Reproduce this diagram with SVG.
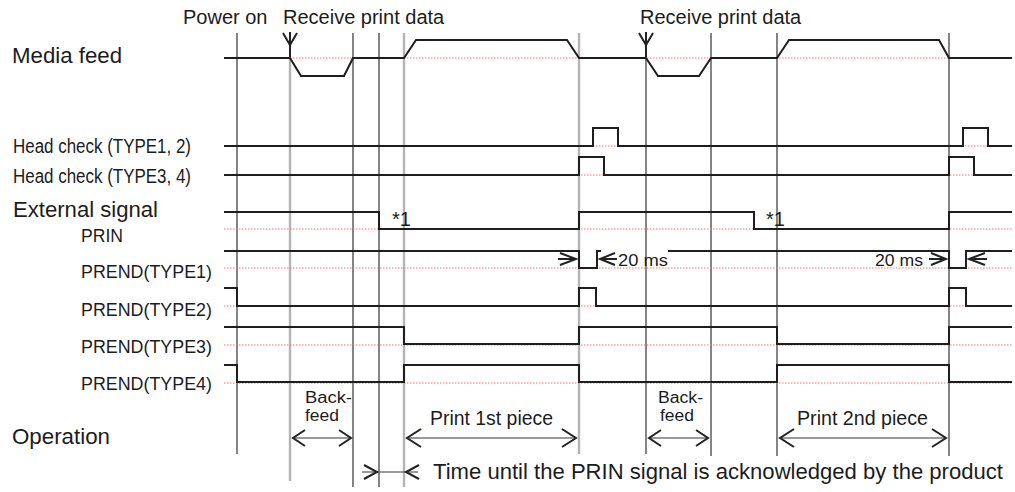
<svg xmlns="http://www.w3.org/2000/svg" width="1015" height="492" viewBox="0 0 1015 492">
<style>
text{font-family:"Liberation Sans",Arial,sans-serif;fill:#1c1c1c}
.big{font-size:22px}
.mid{font-size:20px}
.sm{font-size:18px}
.xs{font-size:16px}
.sig{fill:none;stroke:#1e1e1e;stroke-width:2}
.ref{fill:none;stroke:#ff7070;stroke-width:1.2;stroke-dasharray:1.5 1.5}
.gk{stroke:#333;stroke-width:1.2}
.gg{stroke:#b4b4b4;stroke-width:2.4}
.arr{fill:none;stroke:#222;stroke-width:2}
.shaft{fill:none;stroke:#777;stroke-width:1.5}
</style>
<rect width="1015" height="492" fill="#fff"/>
<g id="gridlines">
<line class="gk" x1="237" y1="33" x2="237" y2="454"/>
<line class="gg" x1="290" y1="58" x2="290" y2="481"/>
<line class="gk" x1="353" y1="33" x2="353" y2="487"/>
<line class="gk" x1="379" y1="33" x2="379" y2="487"/>
<line class="gg" x1="404" y1="33" x2="404" y2="487"/>
<line class="gg" x1="579" y1="33" x2="579" y2="454"/>
<line class="gk" x1="646" y1="58" x2="646" y2="454"/>
<line class="gk" x1="711" y1="33" x2="711" y2="456"/>
<line class="gk" x1="777" y1="33" x2="777" y2="456"/>
<line class="gk" x1="949" y1="33" x2="949" y2="456"/>
</g>
<g id="reference-lines">
<line class="ref" x1="224" y1="58" x2="1012" y2="58"/>
<line class="ref" x1="224" y1="146" x2="1012" y2="146"/>
<line class="ref" x1="224" y1="175" x2="1012" y2="175"/>
<line class="ref" x1="224" y1="229" x2="1012" y2="229"/>
<line class="ref" x1="224" y1="268" x2="1012" y2="268"/>
<line class="ref" x1="224" y1="306" x2="1012" y2="306"/>
<line class="ref" x1="224" y1="345" x2="1012" y2="345"/>
<line class="ref" x1="224" y1="383" x2="1012" y2="383"/>
</g>
<g id="labels">
<text class="mid" x="183" y="24">Power on</text>
<text class="mid" x="283" y="24">Receive print data</text>
<text class="mid" x="640" y="24">Receive print data</text>
<text class="big" x="12" y="63" textLength="110" lengthAdjust="spacingAndGlyphs">Media feed</text>
<text class="mid" x="13" y="153" textLength="178" lengthAdjust="spacingAndGlyphs">Head check (TYPE1, 2)</text>
<text class="mid" x="13" y="183" textLength="178" lengthAdjust="spacingAndGlyphs">Head check (TYPE3, 4)</text>
<text class="big" x="13" y="217" textLength="145" lengthAdjust="spacingAndGlyphs">External signal</text>
<text class="sm" x="81" y="242" textLength="42" lengthAdjust="spacingAndGlyphs">PRIN</text>
<text class="sm" x="81" y="278" textLength="131" lengthAdjust="spacingAndGlyphs">PREND(TYPE1)</text>
<text class="sm" x="81" y="316" textLength="131" lengthAdjust="spacingAndGlyphs">PREND(TYPE2)</text>
<text class="sm" x="81" y="353" textLength="131" lengthAdjust="spacingAndGlyphs">PREND(TYPE3)</text>
<text class="sm" x="81" y="390" textLength="131" lengthAdjust="spacingAndGlyphs">PREND(TYPE4)</text>
<text class="big" x="12" y="444" textLength="98" lengthAdjust="spacingAndGlyphs">Operation</text>
</g>
<g id="signals">
<path id="media-feed" class="sig" d="M224,58 H290 L301,76 H344 L353,58 H404 L416,40 H567 L579,58 H646 L658,76 H699 L711,58 H777 L789,40 H939 L949,58 H1012"/>
<path id="head-check-12" class="sig" d="M224,146 H593 V128 H618 V146 H963 V128 H988 V146 H1012"/>
<path id="head-check-34" class="sig" d="M224,175 H579 V157 H604 V175 H949 V157 H974 V175 H1012"/>
<path id="prin" class="sig" d="M224,212 H379 V229 H579 V212 H754 V229 H949 V212 H1012"/>
<path id="prend1" class="sig" d="M224,251 H579 V268 H597 V251 H601 M668,251 H949 V268 H966 V251 H1012"/>
<path id="prend2" class="sig" d="M224,288 H237 V306 H579 V288 H596 V306 H949 V288 H966 V306 H1012"/>
<path id="prend3" class="sig" d="M224,327 H404 V344 H579 V327 H777 V344 H949 V327 H1012"/>
<path id="prend4" class="sig" d="M224,365 H237 V382 H404 V365 H579 V382 H777 V365 H949 V382 H1012"/>
</g>
<g id="annotations">
<g id="receive-arrow-1"><line class="arr" x1="290" y1="32" x2="290" y2="57"/><path class="arr" d="M283,33 L290,45 L297,33"/></g>
<g id="receive-arrow-2"><line class="arr" x1="646" y1="32" x2="646" y2="57"/><path class="arr" d="M639,33 L646,45 L653,33"/></g>
<text class="mid" x="392" y="226">*1</text>
<text class="mid" x="766" y="226">*1</text>
<g id="twenty-ms-1">
<line class="arr" x1="558" y1="259" x2="576" y2="259"/><path class="arr" d="M560,253 L576,259 L560,265"/>
<line class="arr" x1="600" y1="259" x2="617" y2="259"/><path class="arr" d="M615,253 L600,259 L615,265"/>
<text class="xs" x="618" y="266" textLength="50" lengthAdjust="spacingAndGlyphs">20 ms</text>
</g>
<g id="twenty-ms-2">
<text class="xs" x="875" y="266" textLength="48" lengthAdjust="spacingAndGlyphs">20 ms</text>
<line class="arr" x1="929" y1="259" x2="946" y2="259"/><path class="arr" d="M931,253 L946,259 L931,265"/>
<line class="arr" x1="969" y1="259" x2="987" y2="259"/><path class="arr" d="M985,253 L969,259 L985,265"/>
</g>
</g>
<g id="operation">
<g id="backfeed-1">
<text class="xs" x="305" y="403" fill="#333" textLength="47" lengthAdjust="spacingAndGlyphs">Back-</text>
<text class="xs" x="305" y="421" fill="#333" textLength="34" lengthAdjust="spacingAndGlyphs">feed</text>
<line class="shaft" x1="293" y1="438" x2="350" y2="438"/>
<path class="arr" d="M305,430 L293,438 L305,446 M339,430 L351,438 L339,446"/>
</g>
<g id="backfeed-2">
<text class="xs" x="658" y="403" fill="#333" textLength="45" lengthAdjust="spacingAndGlyphs">Back-</text>
<text class="xs" x="660" y="421" fill="#333" textLength="34" lengthAdjust="spacingAndGlyphs">feed</text>
<line class="shaft" x1="649" y1="438" x2="708" y2="438"/>
<path class="arr" d="M661,430 L649,438 L661,446 M696,430 L708,438 L696,446"/>
</g>
<g id="print-1">
<text class="mid" x="430" y="425" textLength="123" lengthAdjust="spacingAndGlyphs">Print 1st piece</text>
<line class="shaft" x1="407" y1="438" x2="576" y2="438"/>
<path class="arr" d="M421,429 L407,438 L421,447 M562,429 L576,438 L562,447"/>
</g>
<g id="print-2">
<text class="mid" x="797" y="425" textLength="131" lengthAdjust="spacingAndGlyphs">Print 2nd piece</text>
<line class="shaft" x1="780" y1="438" x2="946" y2="438"/>
<path class="arr" d="M794,429 L780,438 L794,447 M932,429 L946,438 L932,447"/>
</g>
<g id="prin-time">
<line class="shaft" x1="362" y1="472" x2="418" y2="472"/>
<path class="arr" d="M364,465 L377,472 L364,479 M419,465 L406,472 L419,479"/>
<text class="big" x="433" y="479" textLength="570" lengthAdjust="spacingAndGlyphs">Time until the PRIN signal is acknowledged by the product</text>
</g>
</g>
</svg>
